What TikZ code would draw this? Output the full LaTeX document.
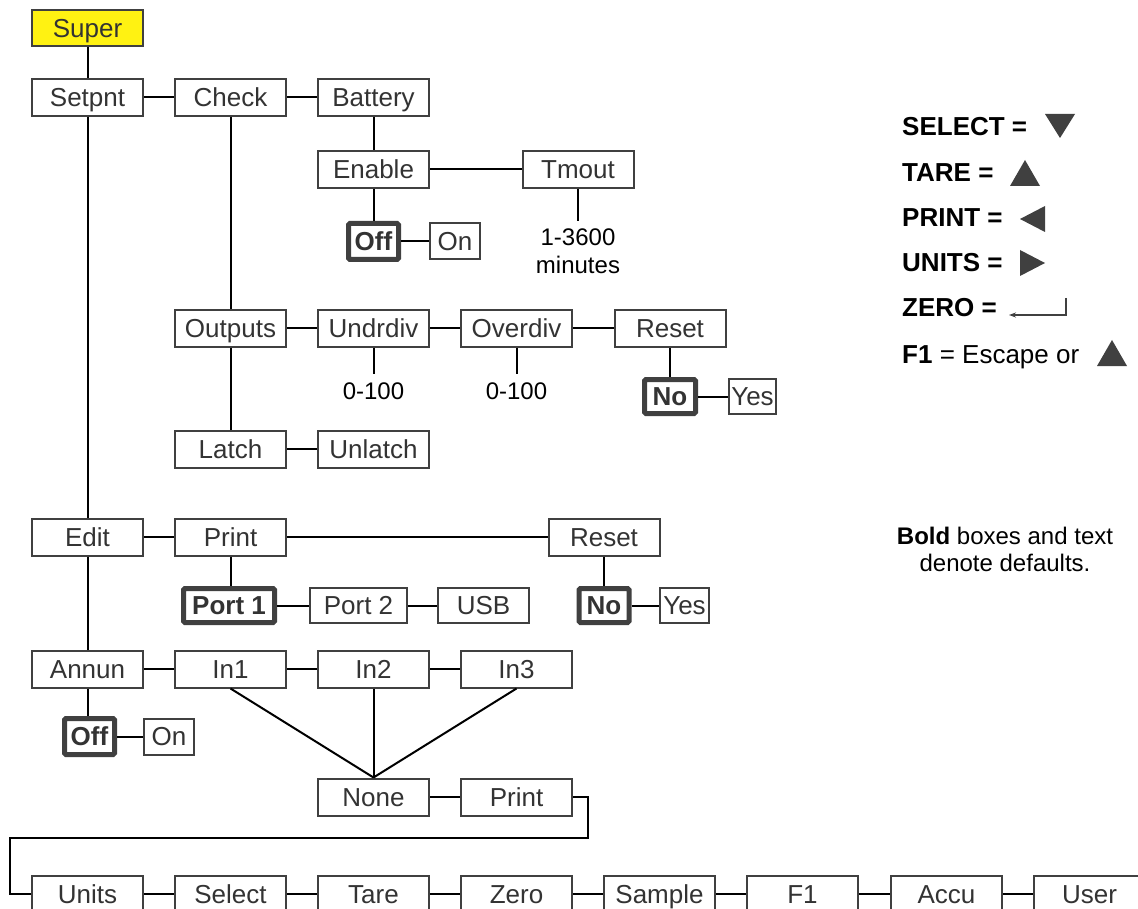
\documentclass[tikz,border=0pt]{standalone}
\usepackage{fontspec}
\setmainfont{Liberation Sans}
\usetikzlibrary{arrows.meta}
\definecolor{boxline}{HTML}{404040}
\definecolor{boxtext}{HTML}{333333}
\definecolor{superyellow}{HTML}{FFF212}
\begin{document}
\begin{tikzpicture}[x=1pt,y=-1pt,
  box/.style={draw=boxline, line width=2pt, fill=white, minimum width=111pt, minimum height=37pt,
    inner sep=0pt, text=boxtext, font=\fontsize{26}{30}\selectfont, text height=18.7pt, text depth=0pt},
  defbox/.style={box, line width=5pt, font=\fontsize{26}{30}\selectfont\bfseries, minimum width=50pt,
    minimum height=36pt, rounded corners=1.5pt},
  optbox/.style={box, minimum width=50pt, minimum height=36pt},
  link/.style={line width=2pt, black},
  lbl/.style={font=\fontsize{24}{28}\selectfont, inner sep=0pt, text=black, text height=17.2pt, text depth=0pt},
  notestyle/.style={font=\fontsize{24}{28}\selectfont, inner sep=0pt, text=black, align=center},
  leg/.style={font=\fontsize{26}{30}\selectfont, inner sep=0pt, anchor=west, text=black, text height=18.7pt, text depth=0pt},
  tri/.style={fill=boxline, draw=none}]
\clip (0,0) rectangle (1138,909);
\fill[white] (0,0) rectangle (1138,909);

% ---- nodes ----
\node[box, fill=superyellow, minimum height=36pt] (super) at (87.5,28) {Super};
\node[box] (setpnt)  at (87.5,97.5)  {Setpnt};
\node[box] (check)   at (230.5,97.5) {Check};
\node[box] (battery) at (373.5,97.5) {Battery};
\node[box] (enable)  at (373.5,169.5) {Enable};
\node[box] (tmout)   at (578,169.5)  {Tmout};
\node[defbox] (off1) at (373.5,241.5) {Off};
\node[optbox] (on1)  at (455,241.5) {On};
\node[lbl] (tmlbl) at (578,237) {1-3600};
\node[lbl] (tmlbl2) at (578,265) {minutes};
\coordinate (tmend) at (578,221);

\node[box] (outputs) at (230.5,328.5) {Outputs};
\node[box] (undrdiv) at (373.5,328.5) {Undrdiv};
\node[box] (overdiv) at (516.5,328.5) {Overdiv};
\node[box] (reset1)  at (670,328.5)   {Reset};
\node[lbl] (ulbl) at (373.5,391) {0-100};
\node[lbl] (olbl) at (516.5,391) {0-100};
\coordinate (uend) at (373.5,374);
\coordinate (oend) at (516.5,374);
\node[defbox, minimum width=51pt, minimum height=34pt] (no1) at (670,396.5) {No};
\node[optbox, minimum width=47pt, minimum height=35pt] (yes1) at (752.5,396.5) {Yes};
\node[box] (latch)   at (230.5,449) {Latch};
\node[box] (unlatch) at (373.5,449) {Unlatch};

\node[box] (edit)   at (87.5,537)  {Edit};
\node[box] (print1) at (230.5,537) {Print};
\node[box] (reset2) at (604,537)   {Reset};
\node[defbox, minimum width=91pt, minimum height=34pt] (port1) at (229,605.5) {Port 1};
\node[optbox, minimum width=97pt, minimum height=35pt] (port2) at (358.5,605.5) {Port 2};
\node[optbox, minimum width=91pt, minimum height=35pt] (usb) at (483.5,605.5) {USB};
\node[defbox, minimum width=50pt, minimum height=34pt] (no2) at (604,605.5) {No};
\node[optbox, minimum width=49pt, minimum height=35pt] (yes2) at (684.5,605.5) {Yes};

\node[box] (annun) at (87.5,669)  {Annun};
\node[box] (in1)   at (230.5,669) {In1};
\node[box] (in2)   at (373.5,669) {In2};
\node[box] (in3)   at (516.5,669) {In3};
\node[defbox] (off2) at (89.5,736.5) {Off};
\node[optbox] (on2)  at (169,736.5) {On};
\node[box] (none)   at (373.5,797) {None};
\node[box] (print2) at (516.5,797) {Print};

\node[box] (units)  at (87.5,894)  {Units};
\node[box] (select) at (230.5,894) {Select};
\node[box] (tare)   at (373.5,894) {Tare};
\node[box] (zero)   at (516.5,894) {Zero};
\node[box] (sample) at (659.5,894) {Sample};
\node[box] (f1)     at (802.5,894) {F1};
\node[box] (accu)   at (946.5,894) {Accu};
\node[box] (user)   at (1089.5,894) {User};
\coordinate (r1) at (588,838);
\coordinate (l1) at (10,838);

% ---- connectors ----
\draw[link] (super) -- (setpnt);
\draw[link] (setpnt) -- (check);
\draw[link] (check) -- (battery);
\draw[link] (battery) -- (enable);
\draw[link] (enable) -- (tmout);
\draw[link] (enable) -- (off1);
\draw[link] (off1) -- (on1);
\draw[link] (tmout.south) -- (tmend);
\draw[link] (check) -- (outputs);
\draw[link] (outputs) -- (latch);
\draw[link] (latch) -- (unlatch);
\draw[link] (outputs) -- (undrdiv);
\draw[link] (undrdiv) -- (overdiv);
\draw[link] (overdiv) -- (reset1);
\draw[link] (undrdiv.south) -- (uend);
\draw[link] (overdiv.south) -- (oend);
\draw[link] (reset1) -- (no1);
\draw[link] (no1) -- (yes1);
\draw[link] (setpnt) -- (edit);
\draw[link] (edit) -- (print1);
\draw[link] (print1) -- (reset2);
\draw[link] (print1.south) -- (port1.north -| print1.south);
\draw[link] (port1) -- (port2);
\draw[link] (port2) -- (usb);
\draw[link] (reset2) -- (no2);
\draw[link] (no2) -- (yes2);
\draw[link] (edit) -- (annun);
\draw[link] (annun) -- (in1);
\draw[link] (in1) -- (in2);
\draw[link] (in2) -- (in3);
\draw[link] (annun.south) -- (off2.north -| annun.south);
\draw[link] (off2) -- (on2);
\draw[link] (in1.south) -- (none.north);
\draw[link] (in2.south) -- (none.north);
\draw[link] (in3.south) -- (none.north);
\draw[link] (none) -- (print2);
\draw[link] (print2.east) -| (r1) -- (l1) |- (units.west);
\draw[link] (units) -- (select);
\draw[link] (select) -- (tare);
\draw[link] (tare) -- (zero);
\draw[link] (zero) -- (sample);
\draw[link] (sample) -- (f1);
\draw[link] (f1) -- (accu);
\draw[link] (accu) -- (user);

% ---- legend ----
\node[leg] (lsel) at (902,126) {\bfseries SELECT =};
\fill[tri] (1045,114) -- (1075,114) -- (1060,138) -- cycle;
\node[leg] (ltare) at (902,172) {\bfseries TARE =};
\fill[tri] (1010,186) -- (1040,186) -- (1025,160) -- cycle;
\node[leg] (lprint) at (902,217) {\bfseries PRINT =};
\fill[tri] (1045,206) -- (1045,232) -- (1020,219) -- cycle;
\node[leg] (lunits) at (902,262) {\bfseries UNITS =};
\fill[tri] (1020,250) -- (1020,276) -- (1045,263) -- cycle;
\node[leg] (lzero) at (902,307) {\bfseries ZERO =};
\draw[line width=1.5pt, boxline, -{Stealth[length=7pt,width=5pt]}] (1066,298) -- (1066,315) -- (1009,315);
\node[leg] (lf1) at (902,354) {\textbf{F1} = Escape or};
\fill[tri] (1097,366) -- (1127,366) -- (1112,340) -- cycle;

\node[notestyle] (note) at (1005,549) {\textbf{Bold} boxes and text\\[-1pt]denote defaults.};
\end{tikzpicture}
\end{document}
